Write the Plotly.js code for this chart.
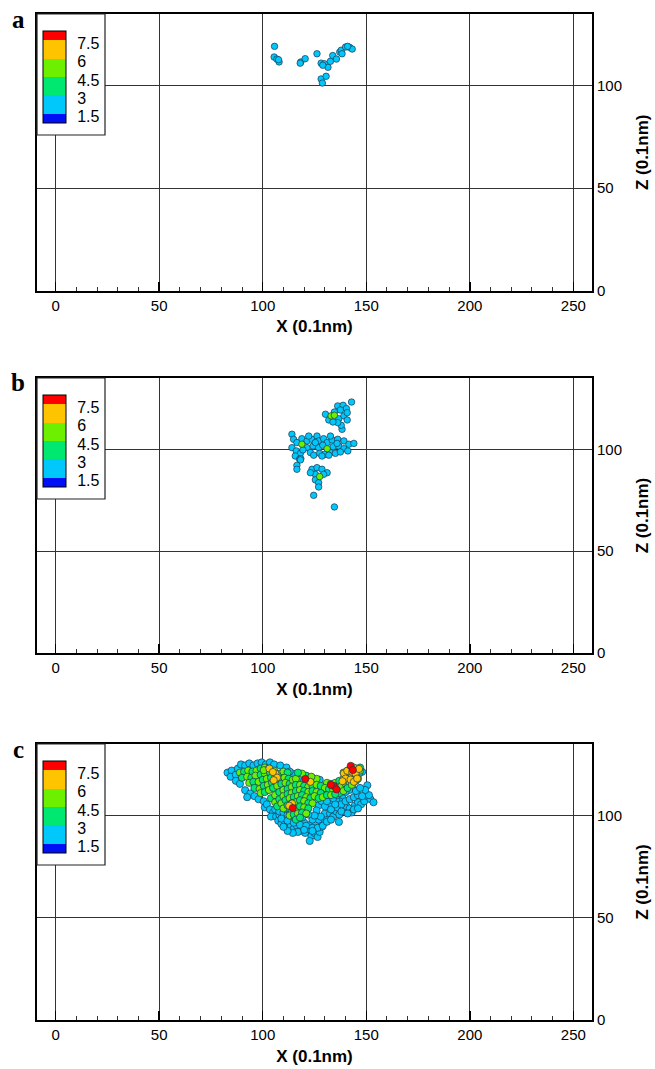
<!DOCTYPE html>
<html>
<head>
<meta charset="utf-8">
<script src="https://cdn.plot.ly/plotly-3.0.1.min.js"></script>
<style>html,body{margin:0;padding:0;background:#fff;}#chart{width:655px;height:1069px;}</style>
</head>
<body>
<div id="chart"></div>
<script>
// ---------- data ----------
// panel a
const aX = [105.7,105.5,106.8,107.9,107.6,118.4,120.5,126.2,128.2,129.8,131.5,132.7,133.8,135.6,137.2,137.9,140,142,143.2,128.2,130.6,128.8,129,138.3,118.1,141];
const aY = [119.2,114,113,111.6,112.7,111.6,113.2,115.6,111,110.7,109,111.9,114.7,113,116.4,117.3,118.9,118.7,117.9,103.3,104.6,101.3,110,115.6,111,119.2];
const aV = [2,2,2,2,2,2,2,2,2,2,2,2,2,2,2,2,2,2,2,2,2,2,2,2,2,2];

// panel b
const bX = [142.9,136.2,138.8,140.4,137.5,134.6,130.3,131.9,136.7,139.2,140.8,138.3,137.9,136.2,133.9,140.8,
  114.1,114.9,116.5,118.9,121.4,123.8,126.2,127,129.4,131.1,133.5,136.2,139.2,141.6,144,114.1,116.2,121.4,124.3,127,134,136.7,139.2,141.1,118.2,123,127.5,130,132.7,135.1,137.5,115.7,117.8,118.4,124.6,128.6,131.9,119.4,125.4,129,122.2,132.7,135.9,116.5,118.2,
  123.8,126.2,128.6,131.1,125.4,129.4,125.4,127,127,123,124.6,134.6,116.5,
  133,134.6,118.9,131.1,127.5];
const bY = [123.2,121.3,121.6,120,119.3,118.3,117.2,114.4,115,116.4,114.4,109.8,111.8,113.1,113.4,118,
  107.4,104.9,103.3,105.2,104.1,104.9,106.5,104.1,105.2,103.3,104.6,104.9,104.1,102.5,102.9,100.8,99.2,100.8,101.6,100.8,101.3,101.6,100.3,99.2,98,98.4,98,97.5,98.4,98,98.7,96.7,95.1,95.4,97.1,96.7,97.1,99.7,103.3,102,106.5,106.5,102.9,92.1,94.8,
  90.2,91,90.2,88.5,87.7,87.7,85,83.6,81.5,88.5,77.4,71.7,90.2,
  116.4,116.7,102.5,100.3,86.6];
const bV = [2,2,2,2,2,2,2,2,2,2,2,2,2,2,2,2,
  2,2,2,2,2,2,2,2,2,2,2,2,2,2,2,2,2,2,2,2,2,2,2,2,2,2,2,2,2,2,2,2,2,2,2,2,2,2,2,2,2,2,2,2,2,
  2,2,2,2,2,2,2,2,2,2,2,2,2,
  5,5,5,5,5];

// panel c
const cX = [
  83,85,84.5,87,88,89.5,91.5,93.5,95.5,97.5,99.5,101.5,103.5,105.5,108.5,111.5,114.5,87,89,91.5,94,92.5,96,98,100.5,101,102,103.5,105,104,106.5,107.5,109,110.5,111.5,113.5,115,116.5,118,119.5,120.5,122,123.5,125,126.5,127.5,122.7,128.5,129.5,131,130,132.5,134,135.5,137,136.8,139,140.5,142,143,144.5,146,147.5,149,150.5,152,153.5,151.3,150.5,149.5,148,146.5,145,143.5,141.8,140,138.5,137,135.5,133.5,132,127,128.5,130,126,108,111,114,117,120,123,125.5,127,124,118,127.5,113,
  106,108,110,112,109,112,115,118,121,124,126.5,129,131,133,128,125,122,119,116,113,111,117,120,124,114.5,112,110,
  136,138,140,142,144,146,148,145,147,138,141,144,146,133,135,131,134,136,130,132,
  89,91,93,95,97,99,101,103,90,92.5,94.5,96.5,99,101,103.5,105.5,93.5,95.5,98,100,102,104,106,108,110,112,96,98.5,100.5,102.5,104.5,106.5,108.5,110.5,112.5,99,101,103,105,107,109,111,113,114.5,
  116,120,122.5,124.5,126,121,119,117,123.5,
  131,133,135,137,139,141,143,145,147,136,138,140,142,144,146,139,141,144,147,137,139,141,143,
  104,106,108,110,112,114,116,118,120,122,124,126,128,130,132,134,106,108,110,112,114,116,118,120,122,124,126,128,107,109,111,113,115,117,119,121,123,125,127,129,131,133,135,110,112,114,116,118,120,122,124,114,116,118,120,122,113,115,117,119,121,116,118,
  100.5,103.2,106.1,106.9,105.3,114.2,112.8,123,139.2,140.8,143.2,144.8,140,142.4,144,145.6,138.5,146.5,
  104.9,120.6,114.5,142.5,143.5,134.3,132.9,135.6];
const cY = [
  121,122,119,120,123,125,124.5,125.5,124.5,125.5,126,125,126,125,124.5,123.5,120.5,117,115.5,112.4,110.8,109,109.5,108,107,104,105.5,103,101.5,99.5,99.5,97.5,96,97.5,94.5,95.5,93.5,95,92.5,94.5,91.5,93.5,90,91.5,89.5,92,87.6,94.5,96.5,98.5,101,101,99.5,102,100.5,96.9,103,104.5,103.5,101.5,105,106.5,105.5,107,109.5,108,106.5,110,114.8,112.5,121.4,120.6,117,113.5,112.5,111.5,108.5,107,108,106,104.5,105,107,104.5,102.5,100.5,99.5,98,97,96.5,95.5,96,98,98,117.5,117.5,121.5,
  103,102,101.5,100.5,98.5,97.5,96.5,95.5,95,94,94,95,97,98,99.5,100,100.5,99,99.5,102,103.5,92,93,92.5,91.5,92.5,94.5,
  104,105.5,107,108,109,110,109.5,112,113.5,102,101,103,103.5,103,105.5,107,108.5,110,111.5,111.8,
  121,121.5,122,121.5,122,123,123.5,123,118.5,119,118.5,119.5,120,120.5,121,122,116,116.5,116.5,117.5,118,118.5,119.5,120.5,121.5,121,113.5,113,114.5,115,116,117,118,118.5,118,111,111.5,112.5,113.5,114.5,115.5,116,115.5,117.5,
  118,117,116.5,117.5,118,119.5,120.5,121,119,
  116,115.5,116,117,118,119,120,121.5,122,113.5,114.5,115.5,116,117.5,118,121,122,123.5,123.5,111,112,113.5,115,
  108.5,110,111.5,112.5,113,114,115,115,114.5,114,114.5,115,114.5,113.5,113,112.5,106.5,108,109.5,110.5,111,112,112.5,112,111.5,112,111.5,111,104.5,106,107.5,108.5,109,109.5,110,109,108.5,109.5,108.5,109,110,110,110.5,103.5,105,106,106.5,107.5,107,106,106,102.5,103.5,104.5,104,103.5,100,100.5,101,101.5,101,98,99,
  122.2,123,120.6,118.6,117.3,105.9,104.8,116.5,120.6,121.9,121.4,120.6,118.1,117.6,116.5,118.1,116.8,122.8,
  121.3,117.9,103.7,124.3,122.3,114.5,115,112.8];
const cV = [
  2,2,2,2,2,2,2,2,2,2,2,2,2,2,2,2,2,2,2,2,2,2,2,2,2,2,2,2,2,2,2,2,2,2,2,2,2,2,2,2,2,2,2,2,2,2,2,2,2,2,2,2,2,2,2,2,2,2,2,2,2,2,2,2,2,2,2,2,2,2,2,2,2,2,2,2,2,2,2,2,2,2,2,2,2,2,2,2,2,2,2,2,2,2,2,2,2,
  2,2,2,2,2,2,2,2,2,2,2,2,2,2,2,2,2,2,2,2,2,2,2,2,2,2,2,
  2,2,2,2,2,2,2,2,2,2,2,2,2,2,2,2,2,2,2,2,
  5,4,5,4,5,4,5,4,4,5,4,5,4,5,4,5,5,4,5,4,5,4,5,4,5,4,4,5,4,5,4,5,4,5,4,5,4,5,4,5,4,5,4,5,
  5,4,5,4,5,4,5,4,5,
  5,4,5,4,5,4,5,4,5,4,5,4,5,4,5,5,4,5,4,4,5,4,5,
  4,5,4,5,4,5,4,5,4,5,4,5,4,5,4,5,5,4,5,4,5,4,5,4,5,4,5,4,4,5,4,5,4,5,4,5,4,5,4,5,4,5,4,5,4,4,5,4,5,4,5,4,5,4,5,4,5,4,5,4,5,4,4,5,
  7,7,7,7,7,7,7,7,7,7,7,7,7,7,7,7,7,7,
  8,8,8,8,8,8,8,8];

// legend levels
const levelVals = [1.5, 3, 4.5, 6, 7.5];
const levelText = ['1.5', '3', '4.5', '6', '7.5'];
const xTicks = [0, 50, 100, 150, 200, 250];
const zTicks = [0, 50, 100];
const panelLetters = ['a', 'b', 'c'];

// ---------- styling ----------
const FONT = 'Liberation Sans, Arial, sans-serif';
const colorscale = [
  [0, '#0010F5'], [0.1, '#0010F5'],
  [0.1, '#00C8FA'], [0.3, '#00C8FA'],
  [0.3, '#00E870'], [0.5, '#00E870'],
  [0.5, '#6CF000'], [0.7, '#6CF000'],
  [0.7, '#FFC400'], [0.9, '#FFC400'],
  [0.9, '#FF0000'], [1, '#FF0000']
];

const W = 655, H = 1069;
const M = {l: 37, r: 63, t: 14, b: 49};
const plotH = H - M.t - M.b;
const panels = [
  {top: 14, bottom: 290.6, msize: 6.5},
  {top: 378, bottom: 653, msize: 6.5},
  {top: 744, bottom: 1020, msize: 7.2}
];
const toPaperY = py => (H - M.b - py) / plotH;

function trace(xs, ys, vs, i) {
  const p = panels[i];
  return {
    type: 'scatter', mode: 'markers',
    x: xs, y: ys,
    xaxis: i === 0 ? 'x' : 'x' + (i + 1),
    yaxis: i === 0 ? 'y' : 'y' + (i + 1),
    hoverinfo: 'skip',
    marker: {
      size: p.msize,
      color: vs,
      cmin: 0.75, cmax: 8.25,
      colorscale: colorscale,
      line: {color: '#1c3552', width: 0.7},
      showscale: true,
      colorbar: {
        x: 6 / (W - M.l - M.r), xanchor: 'left', xref: 'paper',
        y: toPaperY(p.top + 17), yanchor: 'top', yref: 'paper',
        len: 92, lenmode: 'pixels',
        thickness: 23, thicknessmode: 'pixels',
        xpad: 0, ypad: 0,
        outlinewidth: 1, outlinecolor: '#000',
        borderwidth: 0, bgcolor: 'rgba(0,0,0,0)',
        tickmode: 'array',
        tickvals: levelVals.map(v => v - 0.25),
        ticktext: levelText,
        ticks: 'outside', ticklen: 8, tickcolor: 'rgba(0,0,0,0)',
        tickfont: {family: FONT, size: 16, color: '#000'}
      }
    }
  };
}

const data = [trace(aX, aY, aV, 0), trace(bX, bY, bV, 1), trace(cX, cY, cV, 2)];

function xAxis(i) {
  return {
    domain: [0, 1],
    anchor: i === 0 ? 'y' : 'y' + (i + 1),
    range: [-9, 259],
    tickmode: 'array', tickvals: xTicks,
    ticks: 'inside', ticklen: 9, tickwidth: 1.5, tickcolor: '#000',
    minor: {dtick: 10, tick0: 0, ticks: 'inside', ticklen: 4, tickwidth: 1, tickcolor: '#333', showgrid: false},
    showgrid: true, gridcolor: '#333', gridwidth: 1,
    showline: true, linecolor: '#000', linewidth: 2, mirror: true,
    zeroline: false,
    tickfont: {family: FONT, size: 15, color: '#000'},
    title: {text: 'X (0.1nm)', font: {family: FONT, size: 17, color: '#000', weight: 'bold'}, standoff: 8},
    automargin: false, fixedrange: true
  };
}
function yAxis(i) {
  const p = panels[i];
  return {
    domain: [toPaperY(p.bottom), toPaperY(p.top)],
    anchor: i === 0 ? 'x' : 'x' + (i + 1),
    side: 'right',
    range: [0, 135],
    tickmode: 'array', tickvals: zTicks,
    ticks: '',
    showgrid: true, gridcolor: '#333', gridwidth: 1,
    showline: true, linecolor: '#000', linewidth: 2, mirror: true,
    zeroline: false,
    tickfont: {family: FONT, size: 15, color: '#000'},
    title: {text: 'Z (0.1nm)', font: {family: FONT, size: 17, color: '#000', weight: 'bold'}, standoff: 15},
    automargin: false, fixedrange: true
  };
}

const shapes = [];
const annotations = [];
const letterY = [20, 382, 749];
for (let i = 0; i < 3; i++) {
  const sx = i === 0 ? 'x' : 'x' + (i + 1);
  const sy = i === 0 ? 'y' : 'y' + (i + 1);
  const p = panels[i];
  const h = p.bottom - p.top;
  shapes.push({
    type: 'rect', xref: sx + ' domain', yref: sy + ' domain',
    x0: 0, x1: 68 / (W - M.l - M.r), y0: 1 - 121 / h, y1: 1,
    fillcolor: '#fff', line: {color: '#222', width: 1.2}, layer: 'above'
  });
  annotations.push({
    xref: 'paper', yref: 'paper',
    x: (18 - M.l) / (W - M.l - M.r), y: toPaperY(letterY[i]),
    xanchor: 'center', yanchor: 'middle',
    text: '<b>' + panelLetters[i] + '</b>', showarrow: false,
    font: {family: 'Liberation Serif, Times New Roman, serif', size: 25, color: '#000'}
  });
}

const layout = {
  width: W, height: H,
  margin: M,
  paper_bgcolor: '#fff', plot_bgcolor: '#fff',
  showlegend: false,
  font: {family: FONT, color: '#000'},
  xaxis: xAxis(0), yaxis: yAxis(0),
  xaxis2: xAxis(1), yaxis2: yAxis(1),
  xaxis3: xAxis(2), yaxis3: yAxis(2),
  shapes: shapes,
  annotations: annotations
};

Plotly.newPlot('chart', data, layout, {displayModeBar: false, staticPlot: true});
</script>
</body>
</html>
